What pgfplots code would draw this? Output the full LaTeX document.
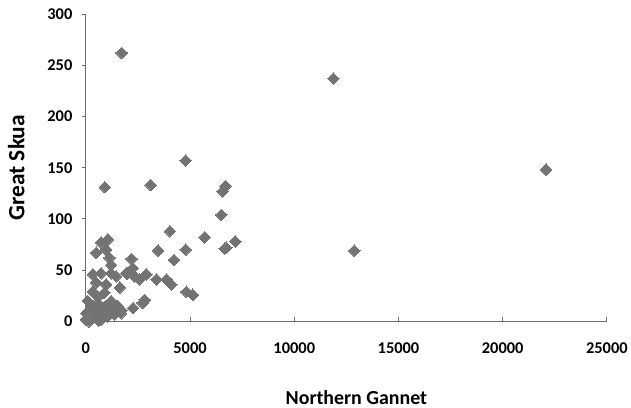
\documentclass[border=0pt]{standalone}
\usepackage{pgfplots}
\pgfplotsset{compat=1.18}
\usepackage{fontspec}
\setmainfont{Carlito}
\definecolor{mk}{RGB}{115,115,115}
\definecolor{ax}{RGB}{110,110,110}
\begin{document}
\begin{tikzpicture}
\begin{axis}[
  scale only axis,
  width=522bp, height=308bp,
  xmin=0, xmax=25000, ymin=0, ymax=300,
  axis x line*=bottom, axis y line*=left,
  axis line style={ax, line width=0.9bp},
  xtick={0,5000,...,25000}, ytick={0,50,...,300},
  x tick style={ax, line width=0.9bp}, y tick style={ax, line width=0.9bp},
  xtick align=inside, ytick align=outside,
  major tick length=4bp,
  minor tick num=0,
  scaled x ticks=false,
  /pgf/number format/assume math mode=true,
  /pgf/number format/1000 sep={},
  tick label style={font=\fontsize{16.5}{18}\selectfont\bfseries},
  xticklabel style={yshift=-18bp},
  yticklabel style={xshift=-6bp},
  xlabel={Northern Gannet}, ylabel={Great Skua},
  xlabel style={font=\fontsize{20}{22}\selectfont\bfseries, yshift=-30bp, xshift=10bp},
  ylabel style={font=\fontsize{23.5}{25}\selectfont\bfseries, yshift=16bp},
  clip=false,
]
\addplot[only marks, mark=square*, mark size=4.1bp, mark options={rotate=45, fill=mk, draw=mk, line width=0pt}] table {
x y
1720 262
11880 237
22080 148
12880 69
4790 157
3110 133
910 131
6700 132
6560 127
6500 104
5700 82
7170 78
6740 72
6650 71
4790 70
3465 69
4030 88
4230 60
2190 61
1950 47
2347 44
2587 41
2906 46
3386 41
3865 41
4104 36
4822 29
5140 26
2826 21
2730 18
2267 13
1630 10
1630 33
2251 52
2012 47
1054 80
733 77
494 67
973 70
1134 62
1213 55
335 46
733 47
1213 47
1453 44
494 38
973 36
335 29
893 28
96 20
575 18
1213 20
1533 15
1692 8
1373 7
15 8
414 12
0 2
335 3
733 2
1054 5
814 10
575 24
255 15
150 0
600 1
1200 12
900 14
650 8
1700 11
};
\end{axis}
\path (current axis.south west) ++(-86bp,-86bp) rectangle ++(631bp,408bp);
\end{tikzpicture}
\end{document}
